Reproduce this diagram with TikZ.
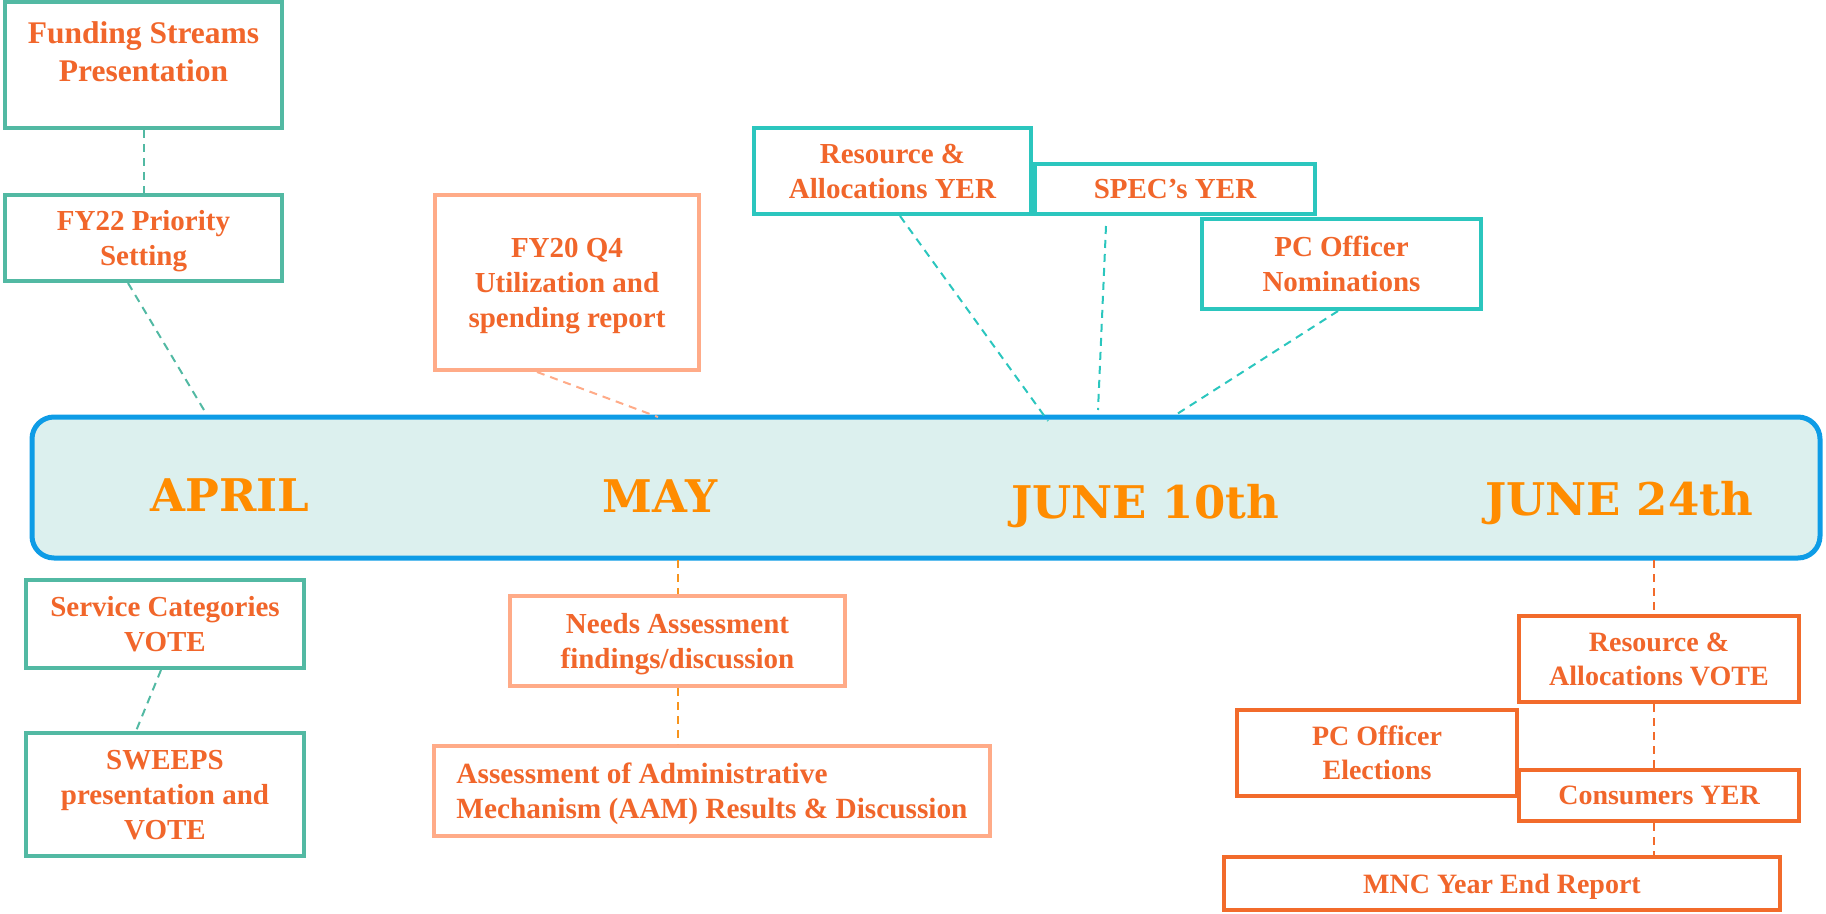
\documentclass[tikz,border=0pt]{standalone}
\usepackage{fontspec}
\setmainfont{Liberation Serif}
\newfontfamily\monthfont{DejaVu Serif}
\usetikzlibrary{calc}
\definecolor{txt}{HTML}{F1662B}
\definecolor{monthc}{HTML}{FF8C00}
\definecolor{tealL}{HTML}{52B9A3}
\definecolor{tealT}{HTML}{2BC6BE}
\definecolor{salmon}{HTML}{FFAB88}
\definecolor{redor}{HTML}{F26B2B}
\definecolor{orline}{HTML}{F7941D}
\definecolor{tlblue}{HTML}{0E9CE6}
\definecolor{tlfill}{HTML}{DCF0EE}
\begin{document}
\begin{tikzpicture}[x=1pt,y=-1pt,
  box/.style={draw, line width=4pt, fill=white, inner sep=0pt, align=center, text=txt,
    text depth=-2pt, font=\fontsize{29}{35}\selectfont\bfseries},
  smallbox/.style={box, font=\fontsize{28}{34}\selectfont\bfseries},
  lbox/.style={box, draw=tealL},
  tbox/.style={box, draw=tealT},
  sbox/.style={box, draw=salmon},
  rbox/.style={smallbox, draw=redor},
  conn/.style={line width=2pt, dash pattern=on 8pt off 6pt},
  month/.style={anchor=base, text=monthc, font=\monthfont\fontsize{45}{50}\selectfont\bfseries}]
\useasboundingbox (0,0) rectangle (1826,913);

% timeline
\node (tl) [draw=tlblue, fill=tlfill, line width=5pt, rounded corners=22pt, inner sep=0pt,
  minimum width=1788pt, minimum height=141pt] at (926,487.5) {};
\node (apr) [month] at (230,511) {APRIL};
\node (may) [month] at (660,512) {MAY};
\node (j10) [month] at (1145,518) {JUNE 10th};
\node (j24) [month] at (1619,515) {JUNE 24th};

\coordinate (capr) at (207,415);
\coordinate (cfy) at (658,417);
\coordinate (cra) at (1048,421);
\coordinate (cspec) at (1098,410);
\coordinate (cpcn) at (1177,414);
\coordinate (cmay) at (678,560);
\coordinate (cj) at (1654,560);

% April boxes
\node (fund) [lbox, minimum width=277pt, minimum height=126pt] at (143.5,65) {};
\node (fundtxt) [text=txt, align=center, inner sep=0pt,
  font=\fontsize{31.5}{38}\selectfont\bfseries] at (143.5,51.5) {Funding Streams\\Presentation};
\node (fy22) [lbox, minimum width=277pt, minimum height=86pt] at (143.5,238) {FY22 Priority\\Setting};
\node (svc) [lbox, minimum width=278pt, minimum height=88pt] at (165,624) {Service Categories\\VOTE};
\node (sweeps) [lbox, minimum width=278pt, minimum height=123pt] at (165,794.5) {SWEEPS\\presentation and\\VOTE};

% May boxes
\node (fy20) [sbox, minimum width=264pt, minimum height=175pt] at (567,282.5) {FY20 Q4\\Utilization and\\spending report};
\node (needs) [sbox, minimum width=335pt, minimum height=90pt] at (677.5,641) {Needs Assessment\\findings/discussion};
\node (aam) [sbox, align=left, minimum width=556pt, minimum height=90pt,
  font=\fontsize{29.3}{35}\selectfont\bfseries] at (712,791) {Assessment of Administrative\\Mechanism (AAM) Results \& Discussion};

% June 10 boxes
\node (spec) [tbox, minimum width=280pt, minimum height=50pt] at (1175,189) {SPEC’s YER};
\node (rayer) [tbox, minimum width=277pt, minimum height=86pt] at (892.5,171) {Resource \&\\Allocations YER};
\node (pcnom) [tbox, minimum width=279pt, minimum height=90pt] at (1341.5,264) {PC Officer\\Nominations};

% June 24 boxes
\node (ravote) [rbox, minimum width=280pt, minimum height=86pt] at (1659,659) {Resource \&\\Allocations VOTE};
\node (pcel) [rbox, minimum width=280pt, minimum height=86pt] at (1377,753) {PC Officer\\Elections};
\node (cons) [rbox, minimum width=280pt, minimum height=51pt] at (1659,795.5) {Consumers YER};
\node (mnc) [rbox, minimum width=556pt, minimum height=53pt] at (1502,883.5) {MNC Year End Report};

% connectors
\draw[conn, tealL] (fund.south) -- (fy22.north);
\draw[conn, tealL] ([xshift=-15.5pt]fy22.south) -- (capr);
\draw[conn, tealL] ([xshift=-4pt]svc.south) -- ([xshift=-29pt]sweeps.north);
\draw[conn, salmon] ([xshift=-30pt]fy20.south) -- (cfy);
\draw[conn, tealT] ([xshift=7.5pt]rayer.south) -- (cra);
\draw[conn, tealT] ([xshift=-69pt,yshift=-10pt]spec.south) -- (cspec);
\draw[conn, tealT] ([xshift=-3.5pt]pcnom.south) -- (cpcn);
\draw[conn, orline] (cmay) -- (cmay |- needs.north);
\draw[conn, orline] (needs.south -| cmay) -- (cmay |- aam.north);
\draw[conn, redor] (cj) -- (cj |- ravote.north);
\draw[conn, redor] (ravote.south -| cj) -- (cj |- cons.north);
\draw[conn, redor] (cons.south -| cj) -- (cj |- mnc.north);
\end{tikzpicture}
\end{document}
